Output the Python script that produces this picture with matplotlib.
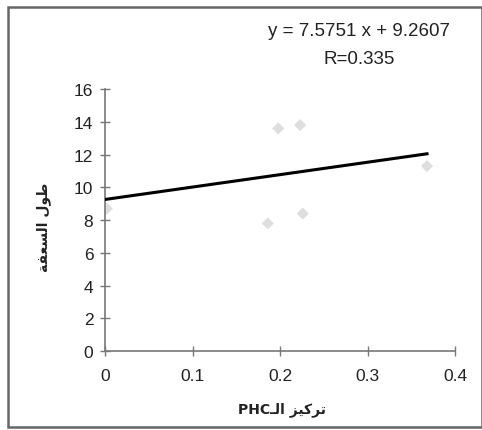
import matplotlib.pyplot as plt
from matplotlib.patches import Rectangle

# PHC concentration vs. frond length
phc = [0.002, 0.186, 0.198, 0.223, 0.226, 0.368]
frond_length = [8.7, 7.8, 13.6, 13.8, 8.4, 11.3]

slope = 7.5751
intercept = 9.2607
r_value = 0.335

x_ticks = [0, 0.1, 0.2, 0.3, 0.4]
y_ticks = list(range(0, 17, 2))

# Arabic labels written in visual (shaped, right-to-left) order
y_label = "ﺔﻔﻌﺴﻟﺍ ﻝﻮﻃ"
x_label = "PHCـﻟﺍ ﺰﻴﻛﺮﺗ"

plt.rcParams['font.family'] = ['Liberation Sans', 'DejaVu Sans']

fig = plt.figure(figsize=(4.82, 4.31), dpi=100)
ax = fig.add_axes([0.218, 0.183, 0.726, 0.608])

# data points
ax.scatter(phc, frond_length, marker='D', s=38, color='#d6d6d6',
           edgecolors='none', alpha=0.8, zorder=2)

# regression line
x_fit = [0, max(phc)]
y_fit = [intercept + slope * x for x in x_fit]
ax.plot(x_fit, y_fit, color='black', lw=2.2, zorder=3)

ax.set_xlim(0, 0.4)
ax.set_ylim(0, 16)
ax.set_xticks(x_ticks)
ax.set_xticklabels(['0', '0.1', '0.2', '0.3', '0.4'])
ax.set_yticks(y_ticks)

for side in ['top', 'right']:
    ax.spines[side].set_visible(False)
for side in ['left', 'bottom']:
    ax.spines[side].set_color('#777777')
    ax.spines[side].set_linewidth(1.2)
ax.tick_params(direction='inout', length=7, width=1, colors='#777777',
               labelcolor='#222222', labelsize=12.5)
ax.tick_params(axis='y', pad=5)
ax.tick_params(axis='x', pad=9)

fig.text(0.09, 0.473, y_label, rotation=90, ha='center', va='center',
         fontsize=10, fontweight='bold', family=['DejaVu Sans'], color='#222222')
fig.text(0.585, 0.049, x_label, ha='center', va='center',
         fontsize=10, fontweight='bold', family=['DejaVu Sans'], color='#222222')

fig.text(0.745, 0.926, 'y = %.4f x + %.4f' % (slope, intercept),
         ha='center', va='center', fontsize=13.5, color='#222222')
fig.text(0.745, 0.862, 'R=%.3f' % r_value,
         ha='center', va='center', fontsize=13.5, color='#222222')

# outer frame
fig.patches.append(Rectangle((0.017, 0.007), 0.983, 0.975, transform=fig.transFigure,
                             fill=False, edgecolor='#666666', lw=1.8))

fig.savefig('out.png', dpi=100)
